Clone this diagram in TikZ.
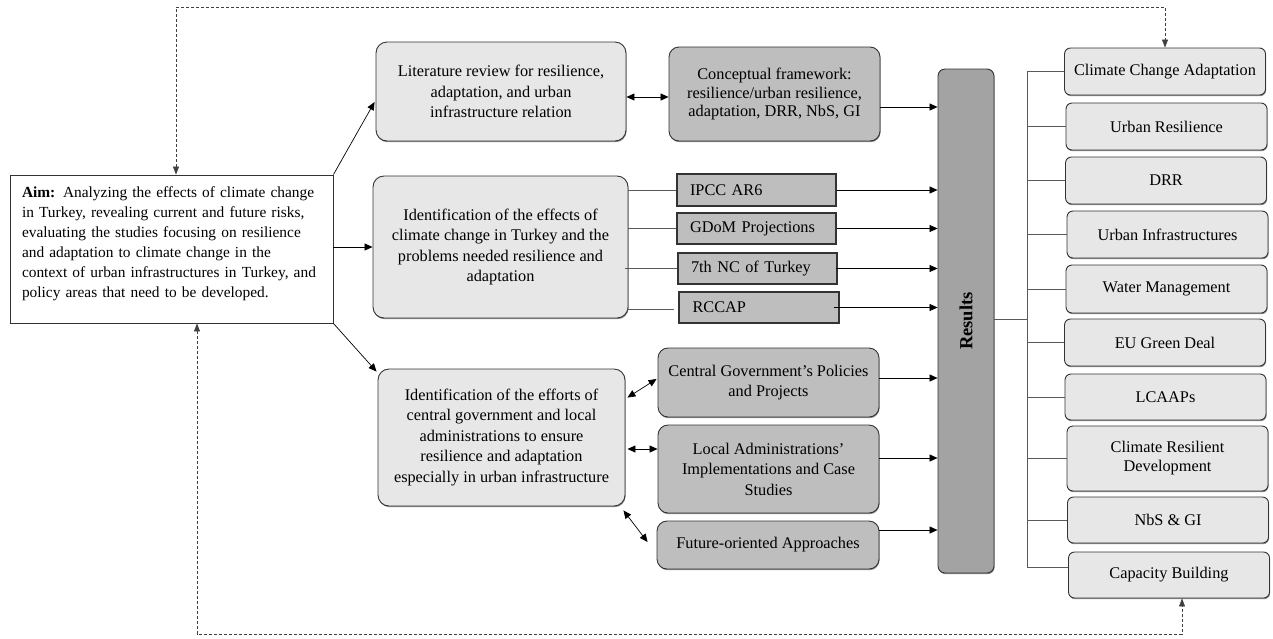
\documentclass[tikz,border=0pt]{standalone}
\usepackage{fontspec}
\usepackage{graphicx}
\setmainfont{Liberation Serif}
\usetikzlibrary{arrows.meta,calc,shadows}
\definecolor{boxlight}{HTML}{E7E7E7}
\definecolor{boxdark}{HTML}{BEBEBE}
\definecolor{resfill}{HTML}{A3A3A3}
\newcommand\aimline[1]{\makebox[299pt][s]{#1}}
\begin{document}
\begin{tikzpicture}[x=1pt,y=-1pt,
  base/.style={draw=black!80, line width=0.9pt, align=center, inner sep=2pt,
               font=\fontsize{16.3}{20.5}\selectfont},
  shade1/.style={drop shadow={shadow xshift=0.6pt, shadow yshift=-1.2pt, fill=black!55, opacity=0.8}},
  light/.style={base, fill=boxlight, rounded corners=11pt, shade1},
  dark/.style={base, fill=boxdark, rounded corners=10pt, shade1},
  src/.style={base, fill=boxdark, rounded corners=0pt, align=left, text width=133pt,
              inner xsep=13pt, minimum width=159pt, minimum height=31pt, line width=1.1pt},
  outc/.style={base, fill=boxlight, rounded corners=6pt, minimum width=201pt, minimum height=47pt, shade1},
  arr/.style={-{Triangle[length=8pt,width=7pt]}, line width=0.7pt},
  darr/.style={{Triangle[length=8pt,width=7pt]}-{Triangle[length=8pt,width=7pt]}, line width=0.7pt},
  link/.style={draw=black!65, line width=0.8pt},
  fbk/.style={{Triangle[length=8pt,width=6pt]}-{Triangle[length=8pt,width=6pt]}, line width=0.6pt,
              draw=black!75, dash pattern=on 3pt off 2pt}
]
\useasboundingbox (0,0) rectangle (1273,638);

% Aim
\node[base, fill=white, rounded corners=0pt, align=left, text width=299pt, inner xsep=12pt,
      minimum width=323pt, minimum height=148pt, font=\fontsize{15.4}{20}\selectfont] (aim) at (171.5,249)
 {\aimline{\textbf{Aim:} Analyzing the effects of climate change}\\
  \aimline{in Turkey, revealing current and future risks,}\\
  \aimline{evaluating the studies focusing on resilience}\\
  \aimline{and adaptation to climate change in the}\\
  \aimline{context of urban infrastructures in Turkey, and}\\
  policy areas that need to be developed.\\[-6pt]\hbox{}};

% Column 2
\node[light, minimum width=250pt, minimum height=99pt] (lit) at (501,91.5)
 {Literature review for resilience,\\adaptation, and urban\\infrastructure relation};
\node[light, minimum width=255pt, minimum height=142pt] (idc) at (500.5,247)
 {Identification of the effects of\\climate change in Turkey and the\\problems needed resilience and\\adaptation};
\node[light, minimum width=247pt, minimum height=137pt] (ide) at (501.5,437.5)
 {Identification of the efforts of\\central government and local\\administrations to ensure\\resilience and adaptation\\especially in urban infrastructure};

% Column 3
\node[dark, minimum width=211pt, minimum height=94pt, font=\fontsize{16.3}{18.5}\selectfont] (cf) at (774.5,94)
 {Conceptual framework:\\resilience/urban resilience,\\adaptation, DRR, NbS, GI};
\node[src, minimum height=32pt] (ipcc) at (756.5,190) {IPCC AR6};
\node[src] (gdom) at (756.5,228.5) {GDoM Projections};
\node[src] (nc7) at (757.5,268.5) {7th NC of Turkey};
\node[src, minimum width=160pt] (rccap) at (759,307.5) {RCCAP};
\node[dark, minimum width=221pt, minimum height=69pt] (cgp) at (768.5,382.5)
 {Central Government’s Policies\\and Projects};
\node[dark, minimum width=221pt, minimum height=88pt] (lai) at (768.5,469)
 {Local Administrations’\\Implementations and Case\\Studies};
\node[dark, minimum width=222pt, minimum height=48pt] (foa) at (768,545)
 {Future-oriented Approaches};

% Results
\node[base, fill=resfill, rounded corners=7pt, minimum width=56pt, minimum height=504pt, shade1,
      font=\fontsize{18.5}{20}\selectfont\bfseries] (res) at (966,321) {\rotatebox{90}{Results}};

% Outcomes
\node[outc] (cca) at (1165,71.5) {Climate Change Adaptation};
\node[outc] (ur) at (1166.5,126.5) {Urban Resilience};
\node[outc] (drr) at (1166,180.5) {DRR};
\node[outc] (ui) at (1167.5,234.5) {Urban Infrastructures};
\node[outc, minimum height=48pt] (wm) at (1166.5,289) {Water Management};
\node[outc] (eu) at (1165,342.5) {EU Green Deal};
\node[outc, minimum height=46pt] (lca) at (1165.5,397) {LCAAPs};
\node[outc, minimum height=65pt, font=\fontsize{16.3}{19}\selectfont] (crd) at (1167.5,458.5) {Climate Resilient\\Development};
\node[outc, minimum height=46pt] (nbs) at (1168,520) {NbS \& GI};
\node[outc, minimum height=46pt] (cb) at (1169,575) {Capacity Building};

% Aim connectors
\draw[arr] (aim.north east) -- ($(lit.west)+(-1,10.5)$);
\draw[arr] (aim.east |- idc.west) -- (idc.west);
\draw[arr] (aim.south east) -- ($(ide.north west)+(-1,3)$);

% Column 2 to 3
\draw[darr] ($(lit.east)+(0,5.5)$) -- ($(cf.west)+(0,3)$);
\draw[link] (ipcc.west -| idc.east) -- (ipcc.west);
\draw[link] (gdom.west -| idc.east) -- (gdom.west);
\draw[link] ($(nc7.west -| idc.east)+(-3,0)$) -- (nc7.west);
\draw[link] ($(rccap.west -| idc.east)+(-1,1.5)$) -- ($(rccap.west)+(-4,1.5)$);
\draw[darr] ($(ide.north east)+(2,29)$) -- ($(cgp.west)+(-1,-3.5)$);
\draw[darr] ($(ide.east)+(2,11.5)$) -- ($(lai.west)+(0,-20)$);
\draw[darr] ($(ide.south east)+(-2,4)$) -- ($(foa.west)+(-9,-3)$);

% To Results
\draw[arr] ($(cf.east)+(0,13)$) -- ($(cf.east -| res.west)+(0,13)$);
\draw[arr] (ipcc.east) -- (ipcc.east -| res.west);
\draw[arr] (gdom.east) -- (gdom.east -| res.west);
\draw[arr] ($(nc7.east)+(-2,0)$) -- (nc7.east -| res.west);
\draw[arr] ($(rccap.east)+(-6,0)$) -- (rccap.east -| res.west);
\draw[arr] ($(cgp.east)+(0,-4.5)$) -- ($(cgp.east -| res.west)+(0,-4.5)$);
\draw[arr] ($(lai.east)+(0,-11)$) -- ($(lai.east -| res.west)+(0,-11)$);
\draw[arr] ($(foa.east)+(0,-15)$) -- ($(foa.east -| res.west)+(0,-15)$);

% Bus to outcomes
\coordinate (bustop) at (1027,72);
\coordinate (busbot) at (1027,567);
\draw[link] (bustop) -- (busbot);
\draw[link] ($(res.east)+(0,-2)$) -- ($(res.east -| bustop)+(0,-2)$);
\foreach \n in {cca,ur,drr,ui,wm,eu,lca,crd,nbs}{
  \draw[link] (\n.west -| bustop) -- (\n.west);
}
\draw[link] (busbot) -- (busbot -| cb.west);

% Feedback dashed lines
\coordinate (topy) at (0,7);
\coordinate (boty) at (0,634);
\coordinate (aimtop) at ($(aim.north)+(4.5,0)$);
\coordinate (aimbot) at ($(aim.south)+(25.5,0)$);
\coordinate (cbbot) at ($(cb.south)+(13,0)$);
\draw[fbk] (aimtop) -- (aimtop |- topy) -- (cca.north |- topy) -- (cca.north);
\draw[fbk] (aimbot) -- (aimbot |- boty) -- (cbbot |- boty) -- (cbbot);
\end{tikzpicture}
\end{document}
